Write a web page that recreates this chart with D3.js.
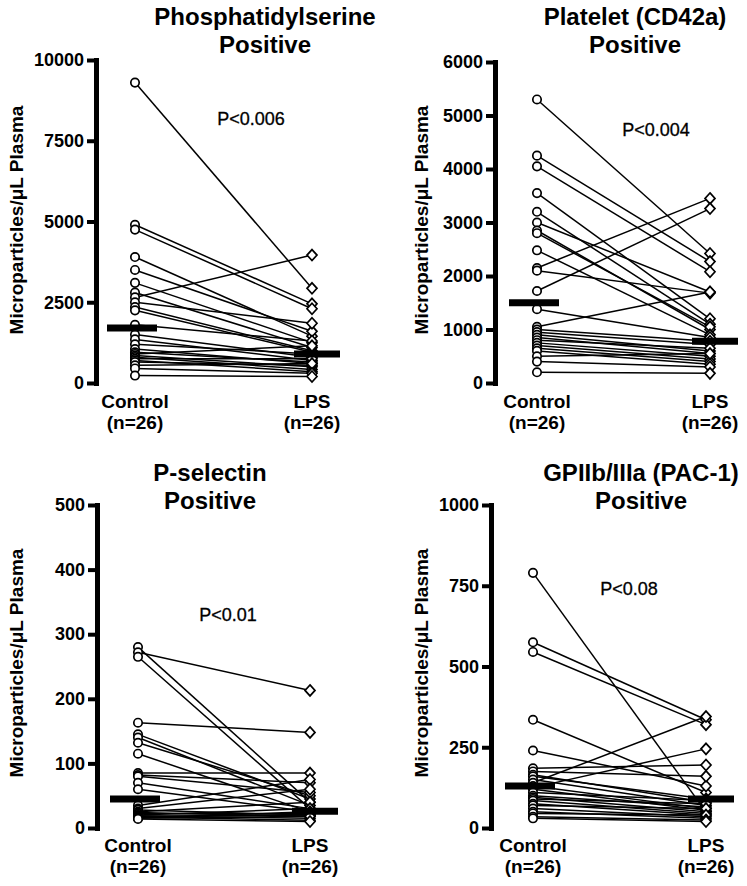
<!DOCTYPE html>
<html>
<head>
<meta charset="utf-8">
<script src="https://cdn.jsdelivr.net/npm/d3@7"></script>
<style>
  body { margin: 0; background: #fff; }
  svg { display: block; font-family: "Liberation Sans", Arial, sans-serif; }
</style>
</head>
<body>
<svg id="chart" width="747" height="886"></svg>
<script>
// groups on the x axis
var groups = ["Control", "LPS"];
var groupNotes = ["(n=26)", "(n=26)"];

// Phosphatidylserine positive (paired, index i = same subject)
var psControl = [9300, 4900, 4750, 3900, 3500, 3100, 2800, 2650, 2500, 2350, 2250, 1800, 1500, 1350, 1200, 1050, 950, 900, 850, 800, 750, 700, 650, 550, 450, 230];
var psLps     = [2930, 2450, 2300, 1450, 1600, 1250, 1100, 3960, 1850, 1000, 950, 1300, 800, 700, 900, 600, 650, 1150, 500, 420, 750, 350, 550, 600, 300, 200];
var psMedian  = [1700, 900];
var psTicks   = [0, 2500, 5000, 7500, 10000];

// Platelet (CD42a) positive
var cdControl = [5300, 4250, 4050, 3550, 3200, 3000, 2850, 2800, 2480, 2150, 2100, 1720, 1380, 1050, 1000, 950, 900, 850, 800, 750, 700, 650, 600, 500, 400, 200];
var cdLps     = [2420, 2270, 2080, 1200, 1100, 1700, 1000, 1050, 900, 3450, 1680, 3260, 850, 1700, 780, 720, 600, 550, 650, 500, 450, 400, 350, 550, 300, 180];
var cdMedian  = [1500, 780];
var cdTicks   = [0, 1000, 2000, 3000, 4000, 5000, 6000];

// P-selectin positive
var pselControl = [280, 272, 265, 163, 145, 140, 132, 115, 85, 82, 80, 70, 60, 35, 30, 28, 25, 24, 22, 20, 19, 18, 17, 16, 15, 14];
var pselLps     = [40, 213, 30, 148, 45, 35, 50, 25, 85, 70, 55, 30, 25, 75, 60, 20, 40, 18, 22, 30, 15, 20, 12, 25, 18, 10];
var pselMedian  = [45, 26];
var pselTicks   = [0, 100, 200, 300, 400, 500];

// GPIIb/IIIa (PAC-1) positive
var pacControl = [790, 575, 545, 335, 240, 185, 175, 165, 160, 150, 140, 130, 125, 120, 110, 100, 95, 90, 85, 75, 70, 60, 50, 45, 35, 30];
var pacLps     = [50, 335, 320, 110, 130, 195, 160, 80, 90, 70, 345, 60, 245, 55, 85, 65, 50, 75, 45, 40, 60, 35, 30, 40, 25, 20];
var pacMedian  = [130, 90];
var pacTicks   = [0, 250, 500, 750, 1000];

var titles = [["Phosphatidylserine", "Positive"], ["Platelet (CD42a)", "Positive"], ["P-selectin", "Positive"], ["GPIIb/IIIa (PAC-1)", "Positive"]];
var pLabels = ["P<0.006", "P<0.004", "P<0.01", "P<0.08"];
var yLabel = "Microparticles/\u03bcL Plasma";

var panels = [
  {title: titles[0], p: pLabels[0], c: psControl, l: psLps, med: psMedian, ticks: psTicks,
   axisX: 96, xc: 135, xl: 312, top: 60, bottom: 383, titleX: 265, titleY: 25, pX: 251, pY: 125, labX: 16, labY: 220, grpY: 408},
  {title: titles[1], p: pLabels[1], c: cdControl, l: cdLps, med: cdMedian, ticks: cdTicks,
   axisX: 495, xc: 537, xl: 710, top: 62, bottom: 383, titleX: 635, titleY: 25, pX: 656, pY: 136, labX: 421, labY: 220, grpY: 408},
  {title: titles[2], p: pLabels[2], c: pselControl, l: pselLps, med: pselMedian, ticks: pselTicks,
   axisX: 97, xc: 138, xl: 310, top: 505, bottom: 828, titleX: 210, titleY: 481, pX: 228, pY: 621, labX: 16, labY: 663, grpY: 852},
  {title: titles[3], p: pLabels[3], c: pacControl, l: pacLps, med: pacMedian, ticks: pacTicks,
   axisX: 491, xc: 533, xl: 706, top: 505, bottom: 828, titleX: 641, titleY: 481, pX: 629, pY: 595, labX: 421, labY: 663, grpY: 852}
];

var svg = d3.select("#chart");

function diamond(r) {
  return "M0," + (-r * 1.1) + "L" + r + ",0L0," + (r * 1.1) + "L" + (-r) + ",0Z";
}

panels.forEach(function(pn) {
  var g = svg.append("g");
  var ext = pn.ticks[pn.ticks.length - 1];

  var x = d3.scalePoint().domain(groups).range([pn.xc, pn.xl]);
  var y = d3.scaleLinear().domain([0, ext]).range([pn.bottom, pn.top]);

  // y axis
  var ax = g.append("g")
    .attr("transform", "translate(" + pn.axisX + ",0)")
    .call(d3.axisLeft(y).tickValues(pn.ticks).tickSize(9).tickSizeOuter(0).tickPadding(3).tickFormat(d3.format("d")));
  ax.select(".domain").attr("stroke-width", 5).attr("stroke-linecap", "square");
  ax.selectAll(".tick line").attr("stroke-width", 4);
  ax.selectAll(".tick text")
    .attr("font-size", 18).attr("font-weight", "bold")
    .attr("font-family", "Liberation Sans, Arial, sans-serif").attr("fill", "#000");

  // paired lines
  var pairs = pn.c.map(function(v, i) { return [v, pn.l[i]]; });
  g.append("g").selectAll("line")
    .data(pairs).enter().append("line")
    .attr("x1", x("Control")).attr("x2", x("LPS"))
    .attr("y1", function(d) { return y(d[0]); })
    .attr("y2", function(d) { return y(d[1]); })
    .attr("stroke", "#000").attr("stroke-width", 1.5);

  // control circles
  g.append("g").selectAll("circle")
    .data(pn.c).enter().append("circle")
    .attr("cx", x("Control")).attr("cy", function(d) { return y(d); })
    .attr("r", 4.2).attr("fill", "#fff").attr("stroke", "#000").attr("stroke-width", 1.7);

  // LPS diamonds
  g.append("g").selectAll("path")
    .data(pn.l).enter().append("path")
    .attr("transform", function(d) { return "translate(" + x("LPS") + "," + y(d) + ")"; })
    .attr("d", diamond(5))
    .attr("fill", "#fff").attr("stroke", "#000").attr("stroke-width", 1.7);

  // median bars
  var offs = [[-28, 22], [-18, 28]];
  g.append("g").selectAll("line")
    .data(pn.med).enter().append("line")
    .attr("x1", function(d, i) { return x(groups[i]) + offs[i][0]; })
    .attr("x2", function(d, i) { return x(groups[i]) + offs[i][1]; })
    .attr("y1", function(d) { return y(d); })
    .attr("y2", function(d) { return y(d); })
    .attr("stroke", "#000").attr("stroke-width", 7);

  // group labels
  groups.forEach(function(name, i) {
    g.append("text").attr("x", x(name)).attr("y", pn.grpY)
      .attr("text-anchor", "middle").attr("font-size", 19).attr("font-weight", "bold").text(name);
    g.append("text").attr("x", x(name)).attr("y", pn.grpY + 21)
      .attr("text-anchor", "middle").attr("font-size", 19).attr("font-weight", "bold").text(groupNotes[i]);
  });

  // title
  pn.title.forEach(function(t, i) {
    g.append("text").attr("x", pn.titleX).attr("y", pn.titleY + i * 28)
      .attr("text-anchor", "middle").attr("font-size", 24).attr("font-weight", "bold").text(t);
  });

  // p value
  g.append("text").attr("x", pn.pX).attr("y", pn.pY)
    .attr("text-anchor", "middle").attr("font-size", 18)
    .attr("stroke", "#000").attr("stroke-width", 0.3).text(pn.p);

  // y label
  g.append("text")
    .attr("transform", "translate(" + pn.labX + "," + pn.labY + ") rotate(-90)")
    .attr("text-anchor", "middle").attr("dominant-baseline", "central")
    .attr("font-size", 19).attr("font-weight", "bold").text(yLabel);
});
</script>
</body>
</html>
